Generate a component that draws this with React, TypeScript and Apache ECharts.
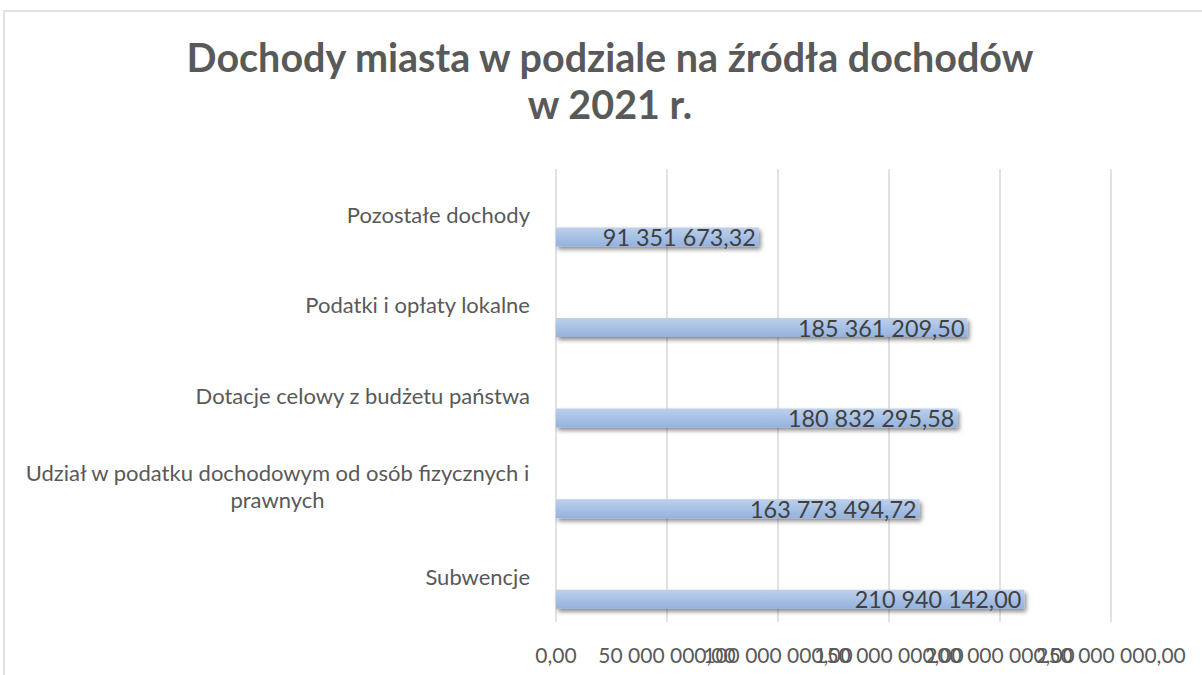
import React, { useEffect, useRef } from "react";
import * as echarts from "echarts";

const categories = [
  "Subwencje",
  "Udział w podatku dochodowym od osób fizycznych i prawnych",
  "Dotacje celowy z budżetu państwa",
  "Podatki i opłaty lokalne",
  "Pozostałe dochody",
];
const values = [210940142.0, 163773494.72, 180832295.58, 185361209.5, 91351673.32];
const axisMin = 0;
const axisMax = 250000000;
const axisInterval = 50000000;

function fmt(v: number): string {
  const fixed = Math.abs(v).toFixed(2);
  const [intPart, dec] = fixed.split(".");
  const grouped = intPart.replace(/\B(?=(\d{3})+(?!\d))/g, " ");
  return (v < 0 ? "-" : "") + grouped + "," + dec;
}

const FONT = "Lato";

const axisLabelBase = {
  color: "#595959",
  fontFamily: FONT,
  fontSize: 21,
  margin: 22,
  hideOverlap: false,
};

export default function App() {
  const ref = useRef<HTMLDivElement>(null);
  useEffect(() => {
    document.body.style.margin = "0";
    if (!ref.current) return;
    const chart = echarts.init(ref.current, undefined, { renderer: "svg" });
    chart.setOption({
      animation: false,
      backgroundColor: "#ffffff",
      textStyle: { fontFamily: FONT },
      title: {
        text: "Dochody miasta w podziale na źródła dochodów\nw 2021 r.",
        left: 610,
        textAlign: "center",
        top: 33,
        padding: 0,
        textStyle: {
          fontFamily: FONT,
          fontWeight: "bold",
          fontSize: 39.5,
          lineHeight: 47,
          color: "#595959",
        },
      },
      graphic: [
        {
          type: "rect",
          shape: { x: 4, y: 11, width: 1300, height: 800 },
          style: { fill: "none", stroke: "#d9d9d9", lineWidth: 1.5 },
          silent: true,
        },
      ],
      grid: { left: 556, right: 91, top: 169, bottom: 53, containLabel: false },
      xAxis: [
        {
          type: "value",
          min: axisMin,
          max: axisMax,
          interval: axisInterval,
          position: "bottom",
          axisLine: { show: false },
          axisTick: { show: false },
          splitLine: { show: true, lineStyle: { color: "#d9d9d9", width: 1.5 } },
          axisLabel: {
            ...axisLabelBase,
            formatter: (v: number) => fmt(v),
            showMinLabel: true,
            showMaxLabel: false,
          },
        },
        {
          type: "value",
          min: axisMin,
          max: axisMax,
          interval: axisInterval,
          position: "bottom",
          offset: 0,
          axisLine: { show: false },
          axisTick: { show: false },
          splitLine: { show: false },
          axisLabel: {
            ...axisLabelBase,
            formatter: (v: number) => (v === axisMax ? fmt(v) : ""),
            showMinLabel: false,
            showMaxLabel: true,
          },
        },
      ],
      yAxis: {
        type: "category",
        data: categories,
        axisLine: { show: false },
        axisTick: { show: false },
        splitLine: { show: false },
        axisLabel: {
          interval: 0,
          margin: 26,
          color: "#595959",
          fontFamily: FONT,
          fontSize: 22,
          align: "right",
          formatter: (v: string) => {
            if (v.length > 40) {
              return "{c|Udział w podatku dochodowym od osób fizycznych i}\n{c|prawnych}";
            }
            return v;
          },
          rich: {
            c: {
              width: 505,
              align: "center",
              color: "#595959",
              fontFamily: FONT,
              fontSize: 22,
              lineHeight: 27,
            },
          },
        },
      },
      series: [
        {
          type: "bar",
          name: "empty",
          data: [],
          barWidth: 19,
          barGap: "138%",
        },
        {
          type: "bar",
          name: "Dochody",
          data: values,
          barWidth: 19,
          barGap: "138%",
          itemStyle: {
            color: new echarts.graphic.LinearGradient(0, 0, 0, 1, [
              { offset: 0, color: "#bdd0eb" },
              { offset: 1, color: "#93b2de" },
            ]),
            shadowColor: "rgba(0,0,0,0.45)",
            shadowBlur: 4,
            shadowOffsetX: 2,
            shadowOffsetY: 3,
          },
          label: {
            show: true,
            position: "insideRight",
            distance: 3,
            formatter: (p: any) => fmt(p.value),
            color: "#404040",
            fontFamily: FONT,
            fontSize: 23.4,
          },
        },
      ],
    });
    return () => chart.dispose();
  }, []);
  return <div ref={ref} style={{ width: 1202, height: 675 }} />;
}
